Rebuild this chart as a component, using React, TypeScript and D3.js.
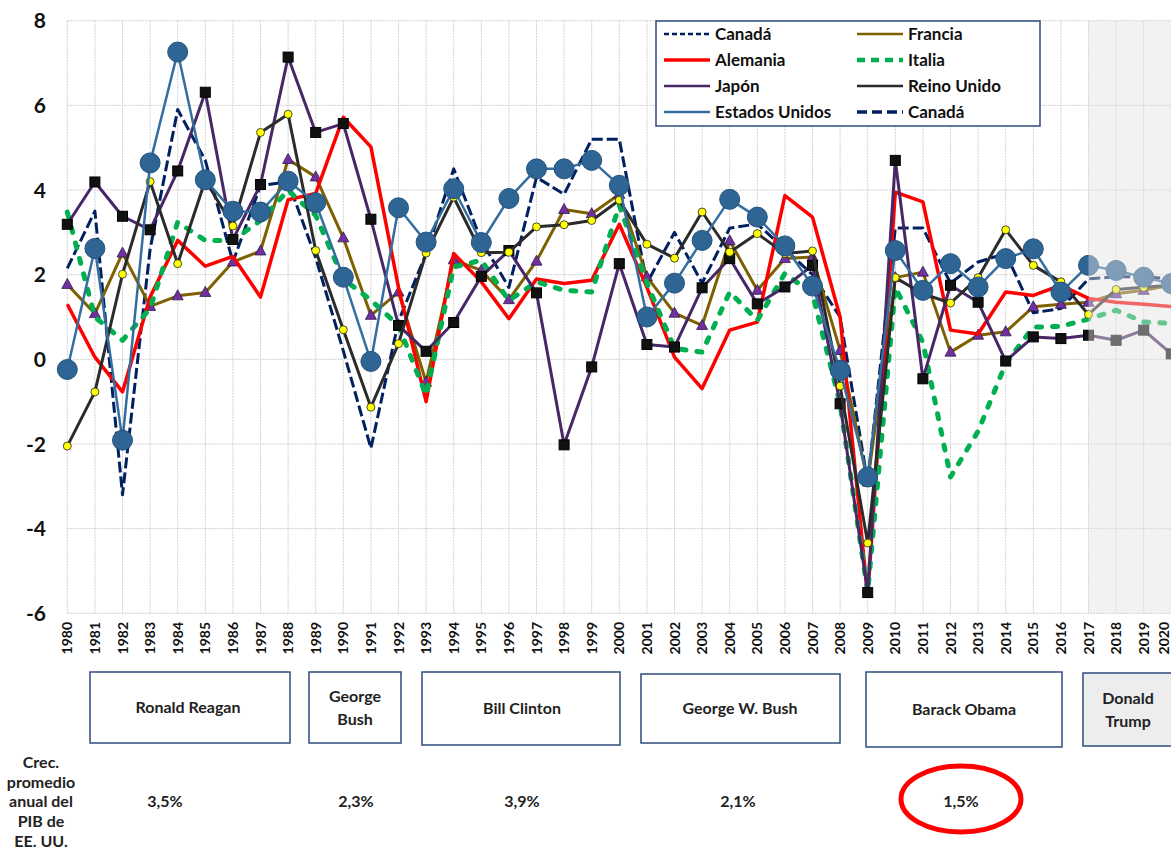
import React from "react";
import * as d3 from "d3";

// años del eje x
const years = d3.range(1980, 2021);
const yTicks = [8, 6, 4, 2, 0, -2, -4, -6];

// crecimiento del PIB (%)
const canada = [2.15, 3.5, -3.2, 2.6, 5.9, 4.7, 2.3, 4.1, 4.2, 2.4, 0.2, -2.1, 0.9, 2.5, 4.5, 2.8, 1.7, 4.3, 3.9, 5.2, 5.2, 1.8, 3.0, 1.8, 3.1, 3.2, 2.6, 2.0, 1.0, -2.9, 3.1, 3.1, 1.8, 2.3, 2.5, 1.1, 1.2, 1.9, 1.95, 1.95, 1.9];
const francia = [1.77, 1.08, 2.51, 1.25, 1.5, 1.58, 2.3, 2.56, 4.72, 4.31, 2.87, 1.04, 1.59, -0.54, 2.35, 2.1, 1.41, 2.32, 3.54, 3.44, 3.9, 1.95, 1.09, 0.8, 2.8, 1.63, 2.38, 2.42, 0.21, -2.9, 1.93, 2.06, 0.17, 0.57, 0.65, 1.24, 1.3, 1.35, 1.55, 1.63, 1.75];
const alemania = [1.3, 0.05, -0.77, 1.47, 2.81, 2.2, 2.43, 1.47, 3.77, 3.92, 5.72, 5.02, 1.7, -1.0, 2.5, 1.83, 0.96, 1.9, 1.79, 1.87, 3.19, 1.7, 0.05, -0.69, 0.69, 0.88, 3.87, 3.36, 1.0, -5.6, 3.95, 3.72, 0.69, 0.6, 1.59, 1.51, 1.75, 1.44, 1.35, 1.3, 1.25];
const italia = [3.48, 1.0, 0.45, 1.2, 3.24, 2.81, 2.81, 3.28, 3.99, 3.4, 1.9, 1.4, 0.8, -0.85, 2.18, 2.34, 1.39, 1.83, 1.63, 1.59, 3.64, 1.8, 0.26, 0.17, 1.59, 0.92, 2.03, 1.55, -1.05, -5.5, 1.7, 0.4, -2.78, -1.7, -0.1, 0.76, 0.78, 0.95, 1.16, 0.88, 0.85];
const japon = [3.19, 4.19, 3.38, 3.06, 4.45, 6.31, 2.83, 4.13, 7.14, 5.36, 5.57, 3.31, 0.8, 0.19, 0.87, 1.96, 2.57, 1.57, -2.02, -0.18, 2.26, 0.35, 0.29, 1.69, 2.38, 1.31, 1.71, 2.22, -1.05, -5.51, 4.7, -0.46, 1.75, 1.35, -0.04, 0.53, 0.49, 0.57, 0.45, 0.69, 0.13];
const reinoUnido = [-2.05, -0.77, 2.01, 4.2, 2.26, 4.23, 3.15, 5.36, 5.79, 2.57, 0.7, -1.13, 0.37, 2.51, 3.83, 2.52, 2.53, 3.13, 3.18, 3.28, 3.76, 2.72, 2.39, 3.48, 2.53, 2.97, 2.5, 2.56, -0.63, -4.34, 1.93, 1.55, 1.33, 1.93, 3.06, 2.22, 1.83, 1.06, 1.65, 1.7, 1.75];
const eeuu = [-0.24, 2.62, -1.91, 4.64, 7.26, 4.24, 3.5, 3.48, 4.21, 3.7, 1.94, -0.05, 3.58, 2.77, 4.03, 2.76, 3.8, 4.5, 4.5, 4.7, 4.11, 1.0, 1.8, 2.81, 3.78, 3.36, 2.68, 1.73, -0.26, -2.78, 2.57, 1.63, 2.26, 1.71, 2.38, 2.61, 1.59, 2.22, 2.1, 1.94, 1.79];

// presidentes y crecimiento promedio
const presidents = ["Ronald Reagan", "George|Bush", "Bill Clinton", "George W.  Bush", "Barack Obama", "Donald|Trump"];
const avgGrowth = ["3,5%", "2,3%", "3,9%", "2,1%", "1,5%", ""];
const rowLabel = ["Crec.", "promedio", "anual del", "PIB de", "EE. UU."];

// layout of the president boxes (pixels)
const boxes = [
  { x0: 90, x1: 290, y0: 672, y1: 743, tx: 188, pct: 165 },
  { x0: 309, x1: 401, y0: 672, y1: 743, tx: 355, pct: 356 },
  { x0: 422, x1: 620, y0: 672, y1: 745, tx: 522, pct: 522 },
  { x0: 641, x1: 840, y0: 674, y1: 743, tx: 740, pct: 738 },
  { x0: 866, x1: 1062, y0: 672, y1: 747, tx: 964, pct: 961 },
  { x0: 1083, x1: 1180, y0: 673, y1: 746, tx: 1128, pct: 0 },
];

const FONT = "Lato, 'Open Sans', sans-serif";
const NAVY = "#002060";

const series = [
  { name: "Canadá", data: canada, color: NAVY, width: 3, dash: "11 4", marker: null },
  { name: "Francia", data: francia, color: "#7F6000", width: 3, dash: null, marker: "tri" },
  { name: "Alemania", data: alemania, color: "#FF0000", width: 3.5, dash: null, marker: null },
  { name: "Italia", data: italia, color: "#00B050", width: 5, dash: "5 11", marker: null },
  { name: "Japón", data: japon, color: "#472766", width: 3, dash: null, marker: "sq" },
  { name: "Reino Unido", data: reinoUnido, color: "#2B2B2B", width: 3, dash: null, marker: "dot" },
  { name: "Estados Unidos", data: eeuu, color: "#336E9F", width: 2.5, dash: null, marker: "big" },
];

const legendItems = [
  { name: "Canadá", color: NAVY, width: 2.5, dash: "5 3", col: 0, row: 0 },
  { name: "Alemania", color: "#FF0000", width: 3.5, dash: null, col: 0, row: 1 },
  { name: "Japón", color: "#472766", width: 2.5, dash: null, col: 0, row: 2 },
  { name: "Estados Unidos", color: "#336E9F", width: 2.5, dash: null, col: 0, row: 3 },
  { name: "Francia", color: "#7F6000", width: 2.5, dash: null, col: 1, row: 0 },
  { name: "Italia", color: "#00B050", width: 4.5, dash: "8 6", col: 1, row: 1 },
  { name: "Reino Unido", color: "#2B2B2B", width: 2.5, dash: null, col: 1, row: 2 },
  { name: "Canadá", color: NAVY, width: 3.5, dash: "10 5", col: 1, row: 3 },
];

const W = 1171;
const H = 854;

export default function App() {
  const x = d3.scaleLinear().domain([1980, 2020]).range([67.3, 1171.3]);
  const y = d3.scaleLinear().domain([-6, 8]).range([613.3, 20.7]);

  const line = d3
    .line<number>()
    .x((d, i) => x(years[i]))
    .y(d => y(d));

  const marker = (kind: string | null, v: number, i: number) => {
    const cx = x(years[i]);
    const cy = y(v);
    if (kind === "sq")
      return <rect key={i} x={cx - 5} y={cy - 5} width={10} height={10} fill="#111" stroke="#000" />;
    if (kind === "dot")
      return <circle key={i} cx={cx} cy={cy} r={4} fill="#FFFF00" stroke="#222" strokeWidth={0.8} />;
    if (kind === "tri")
      return (
        <path
          key={i}
          d={`M${cx},${cy - 6} L${cx + 5.5},${cy + 4} L${cx - 5.5},${cy + 4} Z`}
          fill="#7030A0"
          stroke="#2E1A47"
          strokeWidth={0.8}
        />
      );
    if (kind === "big")
      return <circle key={i} cx={cx} cy={cy} r={10} fill="#2E6595" stroke="#24537C" strokeWidth={1} />;
    return null;
  };

  const shadeX = x(2017);

  return (
    <div style={{ position: "absolute", left: 0, top: 0 }}>
      <svg width={W} height={H} style={{ display: "block", background: "#fff" }} fontFamily={FONT}>
        {/* grid */}
        <g>
          {yTicks.map(t => (
            <line key={t} x1={x(1980)} x2={W} y1={y(t)} y2={y(t)} stroke="#CFCFCF" strokeWidth={1} strokeDasharray="2 1" />
          ))}
          {years.map(yr => (
            <line key={yr} x1={x(yr)} x2={x(yr)} y1={y(8)} y2={y(-6)} stroke="#CFCFCF" strokeWidth={1} strokeDasharray="2 1" />
          ))}
        </g>

        {/* y labels */}
        {yTicks.map(t => (
          <text key={t} x={46} y={y(t)} dy="0.36em" textAnchor="end" fontSize={21} fontWeight="bold" fill="#111">
            {t}
          </text>
        ))}

        {/* year labels */}
        {years.map(yr => (
          <text
            key={yr}
            transform={`translate(${Math.min(x(yr), 1164)},622) rotate(-90)`}
            dy="0.36em"
            textAnchor="end"
            fontSize={14}
            fontWeight="bold"
            fill="#111"
          >
            {yr}
          </text>
        ))}

        {/* series */}
        {series.map(s => (
          <g key={s.name}>
            <path
              d={line(s.data) || ""}
              fill="none"
              stroke={s.color}
              strokeWidth={s.width}
              strokeDasharray={s.dash || undefined}
              strokeLinejoin="round"
              strokeLinecap={s.name === "Italia" ? "round" : "butt"}
            />
            {s.data.map((v, i) => marker(s.marker, v, i))}
          </g>
        ))}

        {/* sombreado de proyección */}
        <rect x={shadeX} y={y(8)} width={W - shadeX} height={y(-6) - y(8)} fill="#E2E2E2" opacity={0.45} />

        {/* legend */}
        <g>
          <rect x={656} y={21} width={384} height={105} fill="#fff" stroke="#2F4B7C" strokeWidth={1.5} />
          {legendItems.map((it, i) => {
            const lx = it.col === 0 ? 664 : 857;
            const ly = 34 + it.row * 26;
            return (
              <g key={i}>
                <line x1={lx} x2={lx + 46} y1={ly} y2={ly} stroke={it.color} strokeWidth={it.width} strokeDasharray={it.dash || undefined} />
                <text x={lx + 51} y={ly} dy="0.36em" fontSize={17} fontWeight="bold" fill="#111">
                  {it.name}
                </text>
              </g>
            );
          })}
        </g>

        {/* presidents */}
        {boxes.map((b, i) => {
          const lines = presidents[i].split("|");
          const cy = (b.y0 + b.y1) / 2;
          return (
            <g key={i}>
              <rect
                x={b.x0}
                y={b.y0}
                width={b.x1 - b.x0}
                height={b.y1 - b.y0}
                fill={i === 5 ? "#EDEDED" : "#fff"}
                stroke="#2F4B7C"
                strokeWidth={1.5}
              />
              {lines.map((l, j) => (
                <text
                  key={j}
                  x={b.tx}
                  y={cy + (j - (lines.length - 1) / 2) * 23}
                  dy="0.36em"
                  textAnchor="middle"
                  fontSize={16}
                  fontWeight="bold"
                  fill="#222"
                >
                  {l}
                </text>
              ))}
              {avgGrowth[i] && (
                <text x={b.pct} y={801} dy="0.36em" textAnchor="middle" fontSize={16} fontWeight="bold" fill="#222">
                  {avgGrowth[i]}
                </text>
              )}
            </g>
          );
        })}

        <ellipse cx={961} cy={799} rx={60} ry={33} fill="none" stroke="#FF0000" strokeWidth={5} />

        {rowLabel.map((l, i) => (
          <text key={i} x={41} y={762 + i * 19.8} dy="0.36em" textAnchor="middle" fontSize={16} fontWeight="bold" fill="#222">
            {l}
          </text>
        ))}
      </svg>
    </div>
  );
}
